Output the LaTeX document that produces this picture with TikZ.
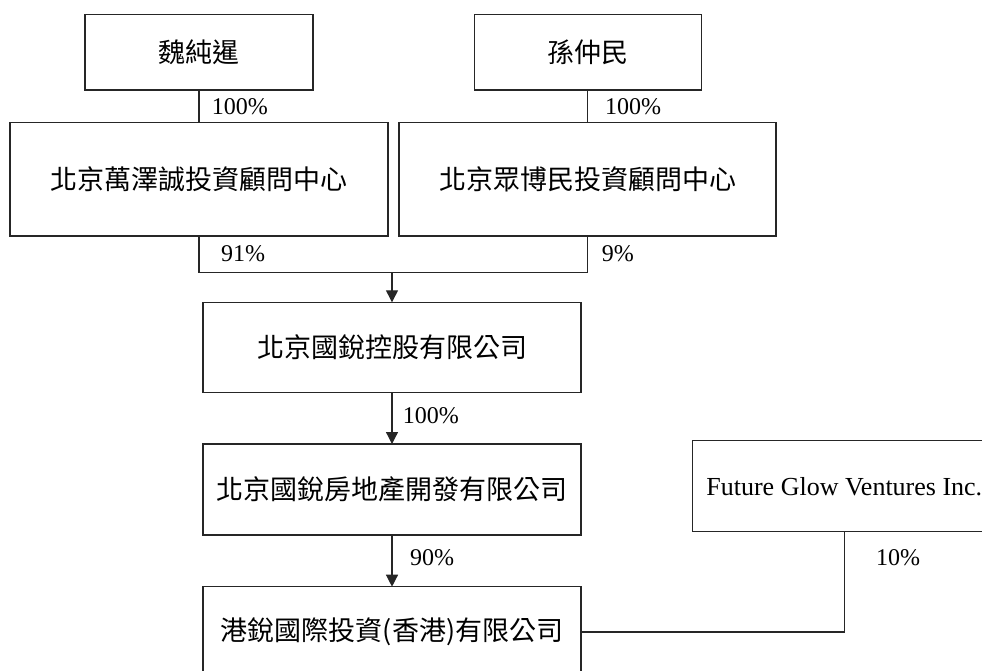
\documentclass[tikz,border=0pt]{standalone}
\usepackage{fontspec}
\setmainfont{Liberation Serif}
\newfontfamily\cjk{Noto Sans CJK TC}
\usepackage{tikz}
\usetikzlibrary{arrows.meta}

\begin{document}
\begin{tikzpicture}[x=1pt,y=1pt]
            \tikzstyle{box}=[draw=black!85, line width=1.3pt, inner sep=0pt, outer sep=0pt, font={\cjk\fontsize{27pt}{30pt}\selectfont}];
            \tikzstyle{link}=[draw=black!85, line width=1.3pt];
            \tikzstyle{arr}=[link, -{Triangle[length=12pt,width=12pt]}];
            \tikzstyle{pct}=[anchor=base west, inner sep=0pt, font={\fontsize{24pt}{28pt}\selectfont}];

            % Page size
            \useasboundingbox (0,0) rectangle (982,670);
            \clip (0,0) rectangle (982,670);

            % The two owners at the top
            \node[box, minimum width=228pt, minimum height=75.3pt] (wei) at (199,617.7) {魏純暹};
            \node[box, minimum width=227pt, minimum height=75.3pt] (sun) at (587.7,617.7) {孫仲民};

            % Their investment centres
            \node[box, minimum width=378pt, minimum height=113.7pt] (wan) at (199,490.8) {北京萬澤誠投資顧問中心};
            \node[box, minimum width=377pt, minimum height=113.7pt] (zhong) at (587.5,490.8) {北京眾博民投資顧問中心};

            % The chain of companies
            \node[box, minimum width=378pt, minimum height=90.4pt] (hold) at (392,322.5) {北京國銳控股有限公司};
            \node[box, minimum width=378pt, minimum height=91pt] (dev) at (392,180.5) {北京國銳房地產開發有限公司};
            \node[box, minimum width=378pt, minimum height=90.6pt] (hk) at (392,38) {港銳國際投資(香港)有限公司};

            % The outside holder on the right
            \node[box, minimum width=303pt, minimum height=91pt, font={\fontsize{26pt}{30pt}\selectfont}] (fgv) at (844.3,183.8) {Future Glow Ventures Inc.};

            % Where the two centres meet
            \coordinate (join) at (392,397.7);

            % Connectors
            \draw[link] (wei.south) -- (wei.south |- wan.north);
            \draw[link] (sun.south) -- (sun.south |- zhong.north);
            \draw[link] (wan.south) |- (join) -| (zhong.south);
            \draw[arr] (join) -- (hold.north);
            \draw[arr] (hold.south) -- (dev.north);
            \draw[arr] (dev.south) -- (hk.north);
            \draw[link] (fgv.south) |- (hk.east);

            % Shares
            \node[pct] (p1) at (211.7,555) {100\%};
            \node[pct] (p2) at (605,555) {100\%};
            \node[pct] (p3) at (221,408.3) {91\%};
            \node[pct] (p4) at (601.7,408.3) {9\%};
            \node[pct] (p5) at (402.7,246.7) {100\%};
            \node[pct] (p6) at (410,105) {90\%};
            \node[pct] (p7) at (876,104.3) {10\%};
        \end{tikzpicture}
\end{document}
